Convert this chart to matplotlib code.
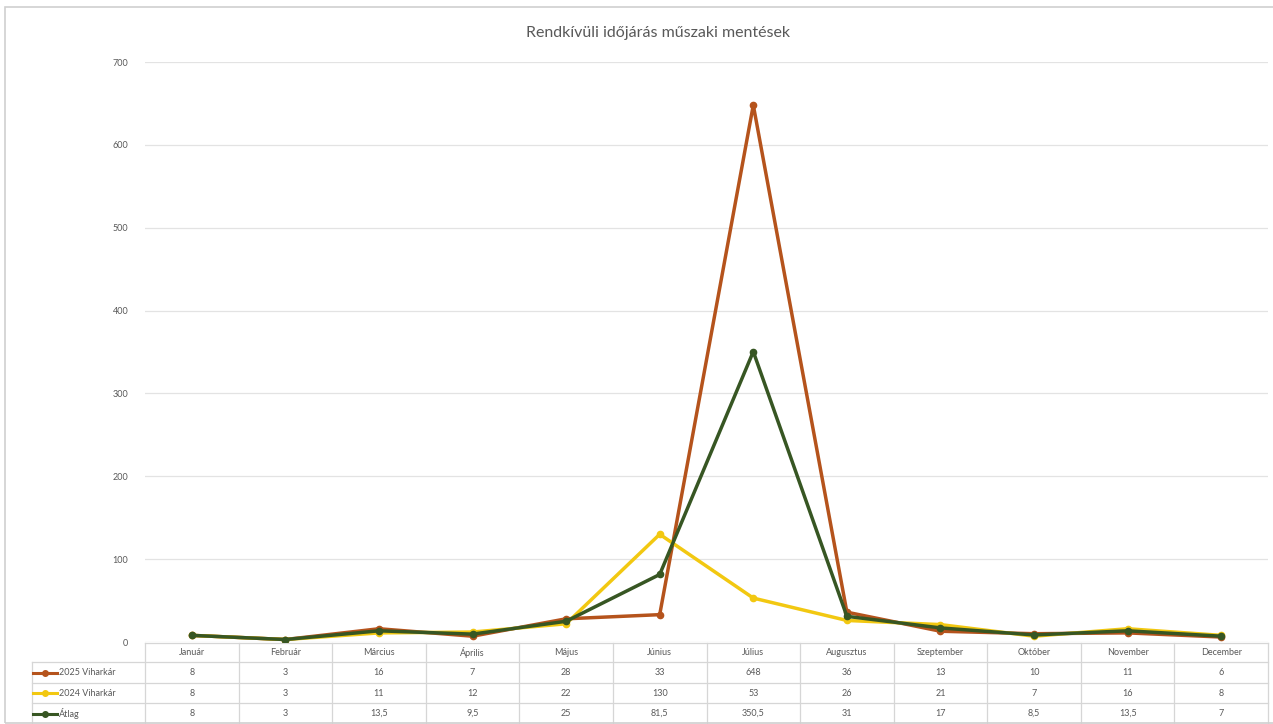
import matplotlib
matplotlib.use("Agg")
import matplotlib.pyplot as plt
import matplotlib.transforms as mtransforms
from matplotlib.patches import Rectangle

months = ["Január", "Február", "Március", "Április", "Május", "Június",
          "Július", "Augusztus", "Szeptember", "Október", "November", "December"]
s2025 = [8, 3, 16, 7, 28, 33, 648, 36, 13, 10, 11, 6]
s2024 = [8, 3, 11, 12, 22, 130, 53, 26, 21, 7, 16, 8]
atlag = [8, 3, 13.5, 9.5, 25, 81.5, 350.5, 31, 17, 8.5, 13.5, 7]
series_names = ["2025 Viharkár", "2024 Viharkár", "Átlag"]
title = "Rendkívüli időjárás műszaki mentések"
yticks = [0, 100, 200, 300, 400, 500, 600, 700]

colors = ["#B5531C", "#F2C811", "#375623"]
plt.rcParams["font.family"] = ["Lato", "DejaVu Sans"]

W, H = 1273, 724
fig = plt.figure(figsize=(W / 100, H / 100), dpi=100)

def fy(py):
    return 1 - py / H

# chart frame
fig.patches.append(Rectangle((5 / W, fy(723)), 1.2, fy(7) - fy(723), transform=fig.transFigure,
                             fill=False, edgecolor="#D0D0D0", lw=1.2, zorder=0))

left, right, top, bottom = 145, 1268, 62, 642
ax = fig.add_axes([left / W, fy(bottom), (right - left) / W, fy(top) - fy(bottom)])
ax.set_xlim(-0.5, len(months) - 0.5)
ax.set_ylim(0, 700)
ax.set_yticks(yticks)
ax.set_yticklabels([str(v) for v in yticks], fontsize=6.5, color="#595959")
ax.tick_params(axis="y", length=0, pad=12)
ax.set_xticks([])
for sp in ax.spines.values():
    sp.set_visible(False)
ax.grid(axis="y", color="#E3E3E3", lw=0.9)
ax.set_axisbelow(True)

x = list(range(len(months)))
all_series = [s2025, s2024, atlag]
for vals, c in zip(all_series, colors):
    ax.plot(x, vals, color=c, lw=2.5, marker="o", ms=4.5, zorder=3)

fig.text(658 / W, fy(33), title, ha="center", va="center", fontsize=11.5, color="#595959")

# data table
tr = mtransforms.blended_transform_factory(ax.transData, fig.transFigure)
gc = "#D6D6D6"
col_w = (right - left) / len(months)
leg_left = -0.5 - (left - 32) / col_w
row_lines = [643, 662, 683, 703, 724]
xr = -0.5 + len(months)
ax.plot([-0.5, xr], [fy(643)] * 2, transform=tr, color=gc, lw=0.9, clip_on=False)
for ry in row_lines[1:]:
    ax.plot([leg_left, xr], [fy(ry)] * 2, transform=tr, color=gc, lw=0.9, clip_on=False)
for i in range(len(months) + 1):
    ax.plot([-0.5 + i] * 2, [fy(643), fy(724)], transform=tr, color=gc, lw=0.9, clip_on=False)
ax.plot([leg_left] * 2, [fy(662), fy(724)], transform=tr, color=gc, lw=0.9, clip_on=False)

tc = "#595959"
for i, m in enumerate(months):
    ax.text(i, fy(652.5), m, transform=tr, ha="center", va="center", fontsize=6.5, color=tc)

def fmt(v):
    s = ("%g" % v)
    return s.replace(".", ",")

for r, vals in enumerate(all_series):
    yc = fy((row_lines[r + 1] + row_lines[r + 2]) / 2)
    for i, v in enumerate(vals):
        ax.text(i, yc, fmt(v), transform=tr, ha="center", va="center", fontsize=6.5, color=tc)
    ax.plot([33 / W, 57 / W], [yc, yc], transform=fig.transFigure, color=colors[r], lw=2.2,
            clip_on=False)
    ax.plot([45 / W], [yc], transform=fig.transFigure, color=colors[r], marker="o", ms=4,
            clip_on=False)
    fig.text(59 / W, yc, series_names[r], ha="left", va="center", fontsize=6.5, color=tc)

fig.savefig("out.png", dpi=100, facecolor="white")
